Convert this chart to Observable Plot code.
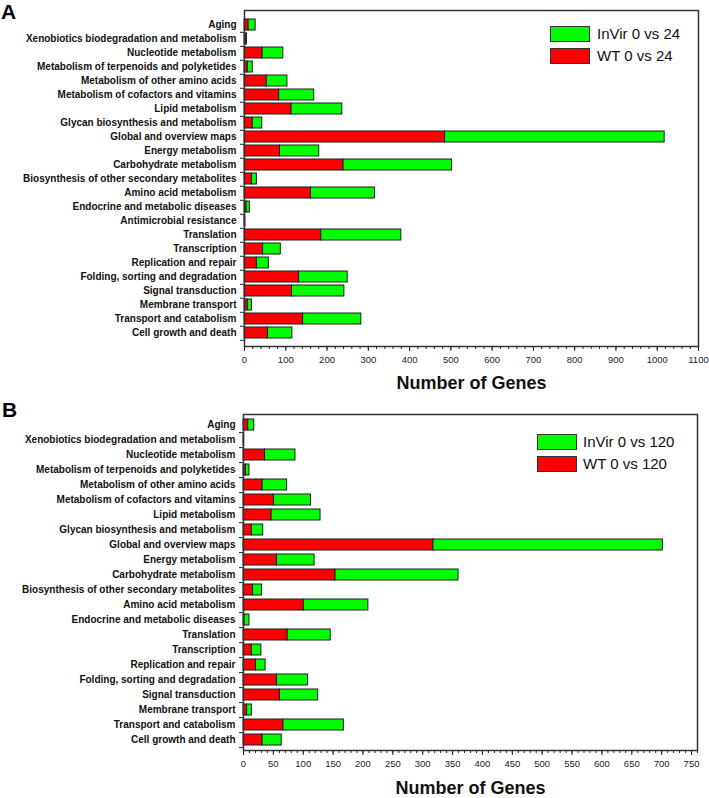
<!DOCTYPE html>
<html><head><meta charset="utf-8">
<script src="https://cdn.jsdelivr.net/npm/d3@7"></script>
<script src="https://cdn.jsdelivr.net/npm/@observablehq/plot@0.6"></script>
<style>
body{margin:0;background:#fff;font-family:"Liberation Sans",Arial,sans-serif;}
#wrap{position:relative;width:709px;height:798px;overflow:hidden;}
.panel{position:absolute;left:0;}
.lg{position:absolute;font-size:15px;line-height:16px;color:#111;white-space:nowrap;}
.sw{position:absolute;width:40px;height:16px;border:1px solid #333;box-sizing:border-box;}
.letter{position:absolute;font-size:21px;font-weight:bold;line-height:21px;color:#000;}
</style></head><body><div id="wrap"></div>
<script>
// ---- Panel A data ----
const categoriesA = [
  "Aging","Xenobiotics biodegradation and metabolism","Nucleotide metabolism",
  "Metabolism of terpenoids and polyketides","Metabolism of other amino acids",
  "Metabolism of cofactors and vitamins","Lipid metabolism","Glycan biosynthesis and metabolism",
  "Global and overview maps","Energy metabolism","Carbohydrate metabolism",
  "Biosynthesis of other secondary metabolites","Amino acid metabolism",
  "Endocrine and metabolic diseases","Antimicrobial resistance","Translation","Transcription",
  "Replication and repair","Folding, sorting and degradation","Signal transduction",
  "Membrane transport","Transport and catabolism","Cell growth and death"
];
const wtA    = [10, 3, 44, 8, 54, 84, 114, 20, 486, 86, 240, 18, 161, 5, 1, 186, 45, 30, 132, 115, 8, 142, 57];
const invirA = [17, 3, 50, 12, 50, 85, 123, 23, 532, 95, 263, 12, 155, 8, 1, 194, 43, 29, 118, 127, 10, 141, 59];
const seriesA = ["WT 0 vs 24", "InVir 0 vs 24"];
const ticksA = d3.range(0, 1101, 100);
const minorTicksA = d3.range(0, 1101, 20);

// ---- Panel B data ----
const categoriesB = [
  "Aging","Xenobiotics biodegradation and metabolism","Nucleotide metabolism",
  "Metabolism of terpenoids and polyketides","Metabolism of other amino acids",
  "Metabolism of cofactors and vitamins","Lipid metabolism","Glycan biosynthesis and metabolism",
  "Global and overview maps","Energy metabolism","Carbohydrate metabolism",
  "Biosynthesis of other secondary metabolites","Amino acid metabolism",
  "Endocrine and metabolic diseases","Translation","Transcription",
  "Replication and repair","Folding, sorting and degradation","Signal transduction",
  "Membrane transport","Transport and catabolism","Cell growth and death"
];
const wtB    = [8, 1, 36, 4, 32, 51, 47, 14, 318, 56, 154, 16, 101, 2, 74, 14, 21, 56, 61, 6, 67, 32];
const invirB = [10, 0, 51, 6, 41, 62, 82, 19, 384, 63, 206, 15, 108, 8, 72, 16, 16, 52, 64, 8, 101, 32];
const seriesB = ["WT 0 vs 120", "InVir 0 vs 120"];
const ticksB = d3.range(0, 751, 50);
const minorTicksB = d3.range(0, 761, 10);

const axisTitle = "Number of Genes";
const FONT = "Liberation Sans, Arial, sans-serif";

function panel({cats, wt, invir, series, xmax, ticks, minor, height, mt, mb, ml, mr, titleDy}) {
  const data = [];
  cats.forEach((c, i) => {
    data.push({cat: c, series: series[0], value: wt[i]});
    data.push({cat: c, series: series[1], value: invir[i]});
  });
  const step = (height - mt - mb) / cats.length;
  return Plot.plot({
    width: 709, height, marginTop: mt, marginBottom: mb, marginLeft: ml, marginRight: mr,
    style: {fontFamily: FONT, background: "white"},
    x: {domain: [0, xmax], label: null},
    y: {domain: cats, paddingInner: 0.24, paddingOuter: 0.12, label: null},
    color: {domain: series, range: ["#ff0000", "#00ff00"]},
    marks: [
      Plot.barX(data, {y: "cat", x: "value", fill: "series", stroke: "#1e1e1e", strokeWidth: 1, order: series}),
      Plot.axisY({tickSize: 0, tickPadding: 8, fontSize: 10, fontWeight: "bold", fill: "#111"}),
      Plot.axisY({tickSize: 4, tickFormat: () => "", dy: step / 2, stroke: "#222"}),
      Plot.axisX(ticks, {tickSize: 5, tickPadding: 5, fontSize: 9.5, fill: "#222", stroke: "#222", tickFormat: d => String(d)}),
      Plot.axisX(minor, {tickSize: 3, tickFormat: () => "", stroke: "#222"}),
      Plot.frame({stroke: "#333", strokeWidth: 1.5}),
      Plot.text([axisTitle], {frameAnchor: "bottom", dy: titleDy, fontSize: 18, fontWeight: "bold", fill: "#111"})
    ]
  });
}

const wrap = document.getElementById("wrap");

const a = panel({cats: categoriesA, wt: wtA, invir: invirA, series: seriesA, xmax: 1100,
  ticks: ticksA, minor: minorTicksA, height: 398, mt: 10, mb: 52, ml: 244, mr: 11, titleDy: 42.5});
a.classList.add("panel"); a.style.top = "0px";
wrap.appendChild(a);

const b = panel({cats: categoriesB, wt: wtB, invir: invirB, series: seriesB, xmax: 760,
  ticks: ticksB, minor: minorTicksB, height: 400, mt: 16, mb: 48, ml: 243, mr: 12, titleDy: 43.5});
b.classList.add("panel"); b.style.top = "398px";
wrap.appendChild(b);

function addLegend(x, y, textX, series) {
  // InVir (green) first, WT (red) second
  const items = [[series[1], "#00ff00"], [series[0], "#ff0000"]];
  items.forEach(([name, col], i) => {
    const sw = document.createElement("div");
    sw.className = "sw"; sw.style.left = x + "px"; sw.style.top = (y + i * 22) + "px"; sw.style.background = col;
    wrap.appendChild(sw);
    const t = document.createElement("div");
    t.className = "lg"; t.style.left = textX + "px"; t.style.top = (y + i * 22) + "px"; t.textContent = name;
    wrap.appendChild(t);
  });
}
addLegend(550, 26, 597, seriesA);
addLegend(537, 434, 583, seriesB);

function addLetter(txt, x, y) {
  const d = document.createElement("div");
  d.className = "letter"; d.style.left = x + "px"; d.style.top = y + "px"; d.textContent = txt;
  wrap.appendChild(d);
}
addLetter("A", 1, 1);
addLetter("B", 2, 399);
</script></body></html>
